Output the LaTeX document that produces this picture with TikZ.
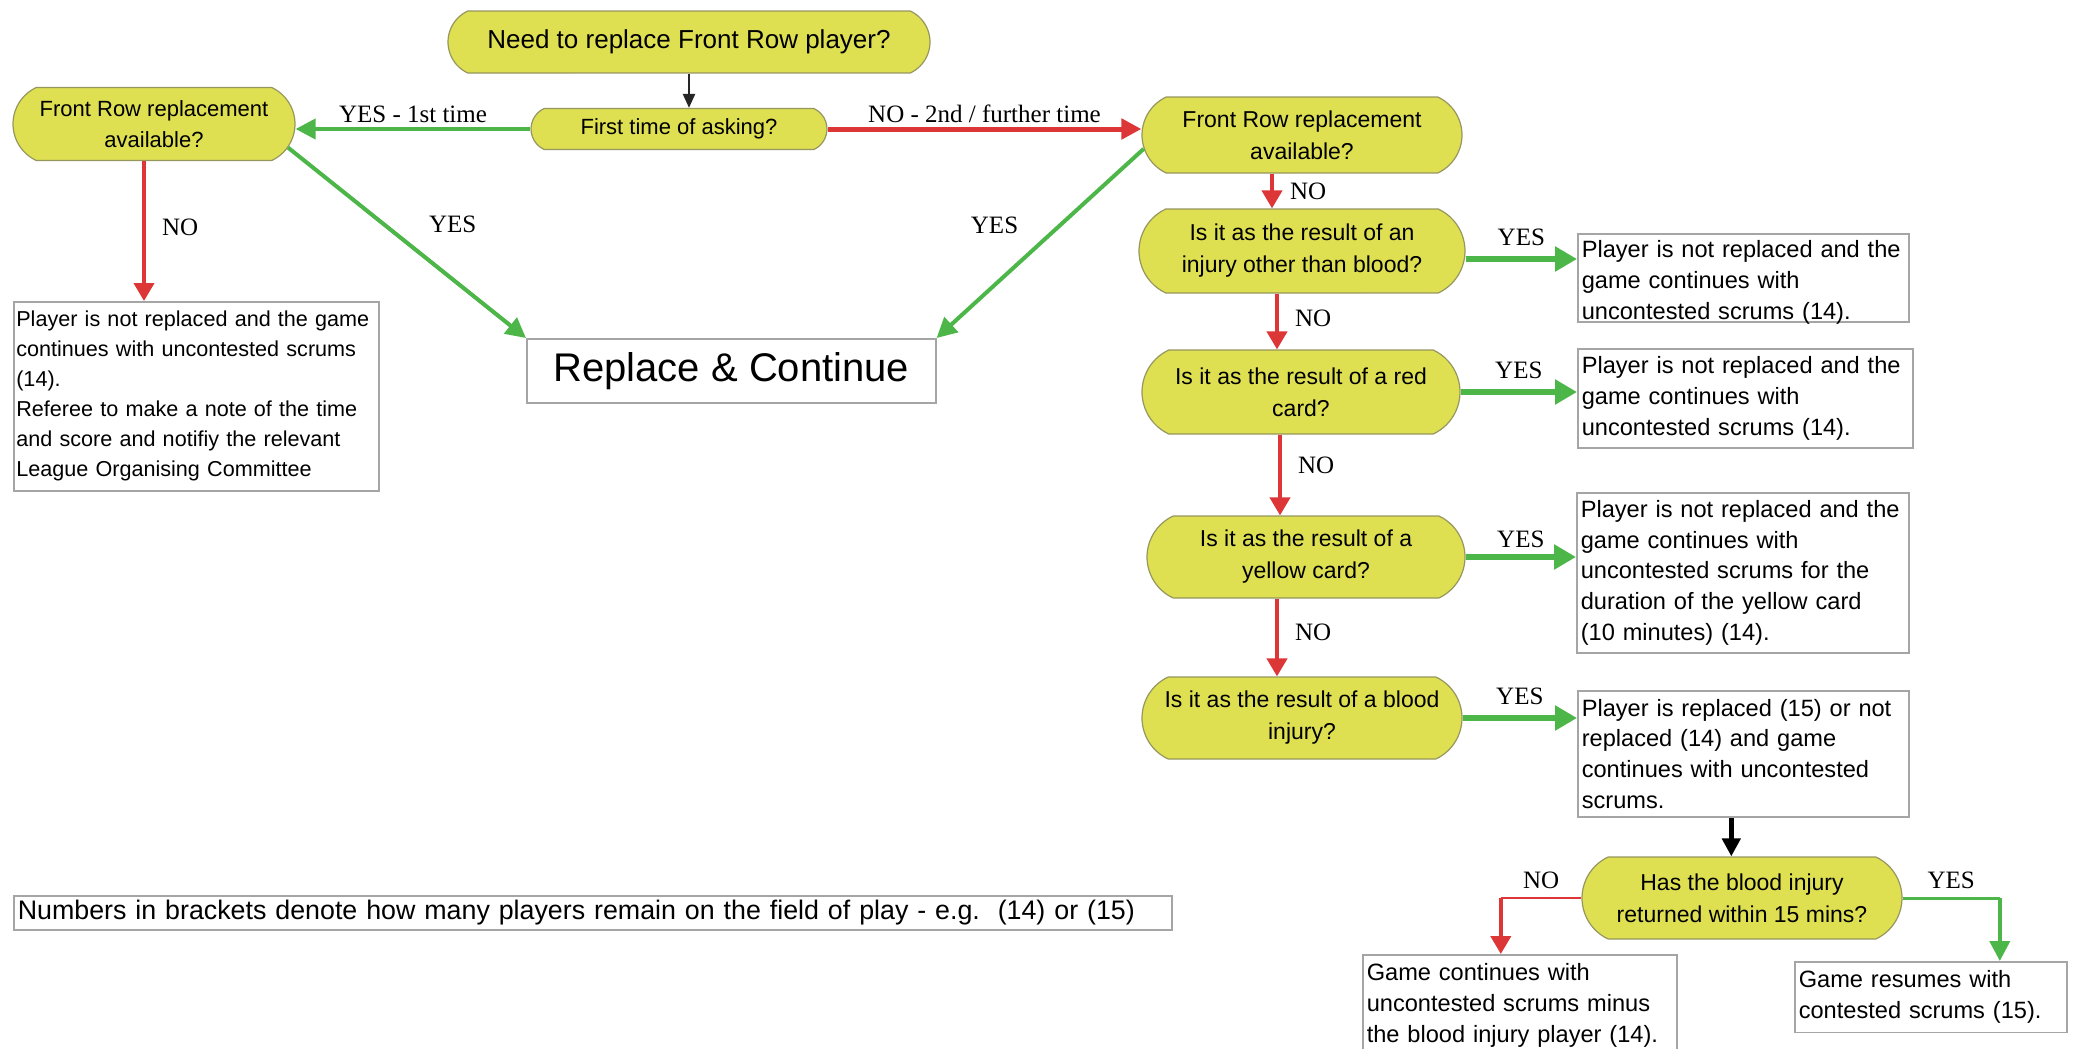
\documentclass[tikz,border=0pt]{standalone}
\usepackage{fontspec}
\setmainfont{Liberation Sans}
\newfontfamily\lblfont{Liberation Serif}
\usetikzlibrary{shapes.misc,arrows.meta}
\definecolor{yel}{RGB}{222,224,82}
\definecolor{ybord}{RGB}{150,150,95}
\definecolor{grn}{RGB}{77,182,72}
\definecolor{rd}{RGB}{221,54,54}
\definecolor{boxbord}{RGB}{165,165,165}
\begin{document}
\begin{tikzpicture}[x=0.5pt,y=-0.5pt,
  dec/.style={rounded rectangle, rounded rectangle arc length=130, fill=yel, draw=ybord, line width=0.6pt,
    align=center, inner xsep=1pt, inner ysep=2pt, minimum width=162pt, minimum height=41pt,
    font=\fontsize{11.5}{16}\selectfont},
  tbox/.style={rectangle, draw=boxbord, line width=0.8pt, anchor=north west, align=left,
    inner xsep=2pt, inner ysep=1.5pt, font=\fontsize{11.8}{15.3}\selectfont},
  lbl/.style={font=\lblfont\fontsize{12.5}{14}\selectfont, inner sep=2pt},
  garrow/.style={draw=grn, line width=2pt, -{Triangle[length=10pt,width=10pt]}},
  gyes/.style={draw=grn, line width=3pt, -{Triangle[length=11pt,width=12pt]}},
  gthin/.style={draw=grn, line width=1.5pt},
  rarrow/.style={draw=rd, line width=2pt, -{Triangle[length=9pt,width=10pt]}},
  rwide/.style={draw=rd, line width=2.5pt, -{Triangle[length=10pt,width=10pt]}},
  rthin/.style={draw=rd, line width=1.2pt},
  karrow/.style={draw=black, line width=2.5pt, -{Triangle[length=9pt,width=9pt]}},
  kthin/.style={draw=black!85, line width=1.2pt, -{Triangle[length=7pt,width=6pt]}}
]
\useasboundingbox (0,0) rectangle (2073,1049);

% decision nodes
\node[dec, minimum width=243pt, minimum height=31pt, font=\fontsize{13}{15}\selectfont] (top) at (689,42) {Need to replace Front Row player?};
\node[dec, minimum width=150pt, minimum height=20.5pt, font=\fontsize{11}{13}\selectfont] (first) at (679,129) {First time of asking?};
\node[dec, minimum width=143pt, minimum height=36.5pt, font=\fontsize{11}{15.5}\selectfont] (lfr) at (154,124) {Front Row replacement\\available?};
\node[dec, minimum height=38pt] (rfr) at (1302,135) {Front Row replacement\\available?};
\node[dec, minimum width=165pt, minimum height=42pt] (n2) at (1302,251) {Is it as the result of an\\injury other than blood?};
\node[dec, minimum width=161pt, minimum height=42pt] (n3) at (1301,392) {Is it as the result of a red\\card?};
\node[dec, minimum width=161pt] (n4) at (1306,557) {Is it as the result of a\\yellow card?};
\node[dec] (n5) at (1302,718) {Is it as the result of a blood\\injury?};
\node[dec] (n6) at (1742,898) {Has the blood injury\\returned within 15 mins?};

% outcome boxes
\node[tbox, minimum width=204.5pt, minimum height=32pt, align=center, font=\fontsize{20}{24}\selectfont] (rep) at (526,338) {Replace \& Continue};
\node[tbox, text width=180pt, inner xsep=1.25pt, minimum height=94.5pt, font=\fontsize{10.8}{15}\selectfont] (lbox) at (13,301)
  {Player is not replaced and the game\\continues with uncontested scrums\\(14).\\Referee to make a note of the time\\and score and notifiy the relevant\\League Organising Committee};
\node[tbox, text width=161.5pt, text height=10.5pt, text depth=30.5pt] (box1) at (1577,233)
  {Player is not replaced and the\\game continues with\\uncontested scrums (14).};
\node[tbox, text width=163.5pt, minimum height=49.5pt] (box2) at (1577,348)
  {Player is not replaced and the\\game continues with\\uncontested scrums (14).};
\node[tbox, text width=162pt, minimum height=80pt] (box3) at (1576,492)
  {Player is not replaced and the\\game continues with\\uncontested scrums for the\\duration of the yellow card\\(10 minutes) (14).};
\node[tbox, text width=161.5pt, minimum height=63pt] (box4) at (1577,690)
  {Player is replaced (15) or not\\replaced (14) and game\\continues with uncontested\\scrums.};
\node[tbox, text width=153pt, inner ysep=4.5pt] (box5) at (1362,954)
  {Game continues with\\uncontested scrums minus\\the blood injury player (14).\par\vspace*{14pt}};
\node[tbox, text width=132pt, inner ysep=4.5pt] (box6) at (1794,961)
  {Game resumes with\\contested scrums (15).\par\vspace*{24pt}};
\node[tbox, text width=575pt, minimum height=17pt, inner ysep=1pt, font=\fontsize{13.4}{15}\selectfont] (note) at (13,895)
  {Numbers in brackets denote how many players remain on the field of play - e.g.\ \ (14) or (15)};

% connectors top part
\draw[kthin] (top.south) -- (top.south |- first.north);
\draw[garrow] (first.west) -- (lfr.east |- first.west) node[lbl, midway, above]{YES - 1st time};
\draw[rwide] (first.east) -- (rfr.west |- first.east) node[lbl, midway, above]{NO - 2nd / further time};
\draw[garrow] (lfr.-10) -- (rep.north west) node[lbl, midway, above right=2pt, xshift=6pt]{YES};
\draw[garrow] (rfr.185) -- (rep.north east) node[lbl, midway, above left=2pt, xshift=-6pt]{YES};

% left branch
\coordinate (l1) at ([xshift=-5pt]lfr.south);
\draw[rarrow] (l1) -- (l1 |- lbox.north) node[lbl, pos=0.47, right=6pt]{NO};

% right chain
\coordinate (r1) at ([xshift=-15pt]rfr.south);
\draw[rarrow] (r1) -- (r1 |- n2.north) node[lbl, midway, right=6pt]{NO};
\coordinate (r2) at ([xshift=-12.5pt]n2.south);
\draw[rarrow] (r2) -- (r2 |- n3.north) node[lbl, pos=0.45, right=6pt]{NO};
\coordinate (r3) at ([xshift=-10.5pt]n3.south);
\draw[rarrow] (r3) -- (r3 |- n4.north) node[lbl, pos=0.38, right=6pt]{NO};
\coordinate (r4) at ([xshift=-14.5pt]n4.south);
\draw[rarrow] (r4) -- (r4 |- n5.north) node[lbl, pos=0.44, right=6pt]{NO};

% yes arrows
\coordinate (y2) at ([yshift=-4pt]n2.east);
\draw[gyes] (y2) -- (y2 -| box1.west) node[lbl, midway, above=3pt]{YES};
\draw[gyes] (n3.east) -- (n3.east -| box2.west) node[lbl, midway, above=3pt]{YES};
\draw[gyes] (n4.east) -- (n4.east -| box3.west) node[lbl, midway, above=1pt]{YES};
\draw[gyes] (n5.east) -- (n5.east -| box4.west) node[lbl, midway, above=3pt]{YES};

% blood injury return
\coordinate (k1) at ([xshift=-6pt]box4.south);
\draw[karrow] (k1) -- (k1 |- n6.north);
\coordinate (b5) at ([xshift=-9.5pt]box5.north);
\coordinate (c6n) at (b5 |- n6.west);
\draw[rthin] (n6.west) -- (c6n) node[lbl, midway, above=2pt]{NO};
\draw[rarrow] (c6n) -- (b5);
\coordinate (b6) at ([xshift=34.5pt]box6.north);
\coordinate (c6y) at (b6 |- n6.east);
\draw[gthin] (n6.east) -- (c6y) node[lbl, midway, above=2pt]{YES};
\draw[garrow] (c6y) -- (b6);
\end{tikzpicture}
\end{document}
